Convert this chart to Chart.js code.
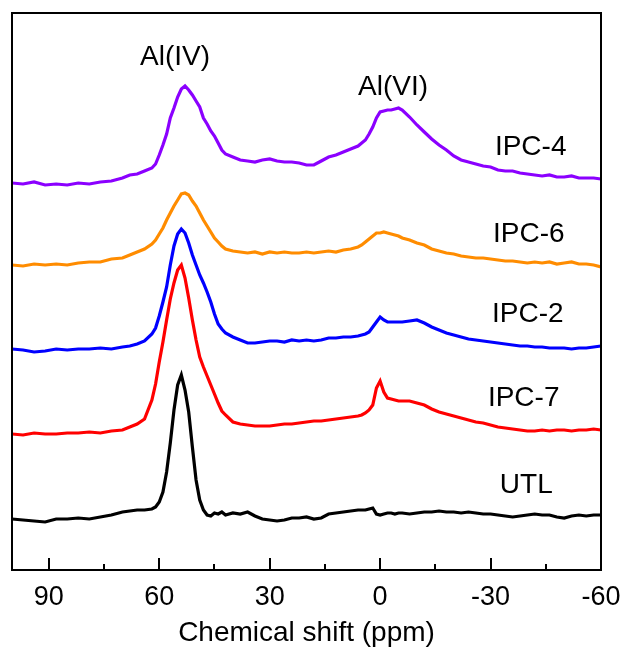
<!DOCTYPE html>
<html>
<head>
<meta charset="utf-8">
<script src="https://cdn.jsdelivr.net/npm/chart.js@4"></script>
<style>
  body { margin: 0; background: #fff; }
  #wrap { width: 622px; height: 647px; }
</style>
</head>
<body>
<div id="wrap"><canvas id="nmr"></canvas></div>
<script>
// Chemical shift points (ppm)
const shift = [100, 97, 94, 91, 88, 85, 82, 79, 76, 73, 70,
  68, 66, 64, 62,
  61, 60, 59, 58, 57, 56, 55, 54, 53, 52, 51, 50, 49, 48, 47, 46, 45, 44, 43, 42,
  40, 38, 36, 34, 32, 30, 28, 26, 24, 22, 20, 18, 16, 14, 12, 10, 8, 6,
  5, 4, 3, 2, 1, 0, -1, -2, -3, -4, -5,
  -6, -8, -10, -12, -14, -16, -18, -20, -22, -24, -26, -28, -30, -32, -34, -36, -38, -40, -42, -44, -46, -48, -50, -52, -54, -56, -58, -60];

// Stacked intensities (offset included)
const ipc4 = [387, 386, 388, 385, 386, 385, 387, 386, 388, 389, 392,
  395, 396, 399, 402,
  406, 415, 425, 436, 452, 462, 473, 481, 484, 480, 475, 469, 463, 452, 446, 439, 434, 427, 420, 416,
  413, 410, 409, 408, 410, 411, 409, 408, 408, 407, 405, 405, 409, 413, 415, 418, 421, 424,
  427, 430, 436, 443, 452, 458, 459, 460, 460, 461, 462,
  460, 453, 445, 438, 431, 425, 420, 414, 410, 408, 406, 404, 403, 400, 399, 399, 397, 396, 395, 394, 395, 393, 393, 394, 392, 392, 392, 391];

const ipc6 = [305, 304, 306, 305, 306, 305, 307, 308, 308, 311, 312,
  315, 318, 321, 326,
  330, 336, 342, 350, 357, 364, 370, 376, 377, 375, 369, 364, 357, 350, 344, 338, 332, 328, 324, 321,
  319, 318, 317, 318, 316, 318, 317, 318, 317, 317, 318, 317, 318, 319, 318, 320, 321, 323,
  325, 328, 331, 334, 337, 337, 338, 337, 336, 335, 334,
  332, 330, 327, 325, 321, 319, 317, 316, 314, 313, 312, 312, 311, 310, 309, 309, 308, 307, 308, 307, 308, 306, 307, 308, 306, 306, 305, 303];

const ipc2 = [221, 220, 218, 219, 221, 220, 221, 221, 222, 221, 223,
  224, 226, 229, 236,
  242, 254, 268, 283, 305, 324, 336, 341, 337, 327, 315, 305, 295, 287, 278, 268, 256, 246, 241, 237,
  233, 230, 227, 227, 228, 229, 229, 228, 230, 229, 230, 229, 230, 232, 232, 233, 233, 234,
  235, 236, 238, 243, 248, 253, 250, 248, 248, 248, 248,
  248, 249, 250, 247, 243, 240, 237, 235, 233, 231, 230, 229, 228, 227, 226, 225, 224, 224, 223, 223, 222, 222, 222, 221, 222, 222, 223, 224];

const ipc7 = [136, 135, 137, 136, 136, 137, 137, 138, 137, 139, 140,
  143, 146, 151, 170,
  186, 208, 228, 250, 271, 287, 300, 305, 292, 272, 250, 230, 213, 203, 194, 185, 176, 167, 159, 155,
  148, 146, 145, 144, 144, 144, 145, 146, 146, 147, 148, 149, 149, 150, 151, 152, 153, 154,
  155, 157, 160, 165, 182, 189, 178, 172, 171, 170, 169,
  169, 169, 167, 165, 161, 158, 156, 154, 152, 150, 148, 147, 145, 143, 142, 141, 140, 139, 139, 140, 139, 140, 140, 139, 140, 140, 141, 140];

const utl = [51, 50, 49, 48, 51, 51, 52, 51, 53, 55, 58,
  59, 60, 60, 61,
  63, 68, 78, 98, 127, 160, 185, 195, 180, 158, 123, 90, 70, 60, 55, 54, 57, 56, 58, 55,
  57, 56, 58, 54, 51, 50, 49, 50, 52, 52, 53, 51, 52, 56, 57, 58, 59, 60,
  60, 60, 61, 62, 56, 55, 56, 57, 57, 56, 57,
  57, 56, 57, 58, 58, 59, 58, 58, 57, 58, 57, 56, 56, 55, 54, 53, 54, 55, 56, 55, 55, 53, 52, 54, 55, 54, 55, 55];

const seriesNames = ['IPC-4', 'IPC-6', 'IPC-2', 'IPC-7', 'UTL'];
const seriesColors = ['#8B00FF', '#FF8C00', '#0000FF', '#FF0000', '#000000'];

// Axis ticks
const majorTicks = [90, 60, 30, 0, -30, -60];
const minorTicks = [75, 45, 15, -15, -45];

// Text labels inside the plot (ppm, intensity)
const noteText = ['Al(IV)', 'Al(VI)', 'IPC-4', 'IPC-6', 'IPC-2', 'IPC-7', 'UTL'];
const noteX = [55.7, -3.5, -40.9, -40.4, -40.1, -39, -39.7];
const noteY = [505, 475, 415, 328, 248, 164, 77];

const FONT = '"Liberation Sans", Arial, sans-serif';

// Frame, inward ticks and labels
const framePlugin = {
  id: 'frame',
  afterDatasetsDraw(chart) {
    const { ctx, chartArea: a } = chart;
    const x = chart.scales.x, y = chart.scales.y;
    ctx.save();
    ctx.strokeStyle = '#000';
    ctx.lineWidth = 2;
    ctx.strokeRect(a.left, a.top, a.right - a.left, a.bottom - a.top);

    ctx.beginPath();
    majorTicks.forEach(v => {
      const px = Math.round(x.getPixelForValue(v));
      ctx.moveTo(px, a.bottom);
      ctx.lineTo(px, a.bottom - 12);
    });
    minorTicks.forEach(v => {
      const px = Math.round(x.getPixelForValue(v));
      ctx.moveTo(px, a.bottom);
      ctx.lineTo(px, a.bottom - 6);
    });
    ctx.stroke();

    ctx.fillStyle = '#000';
    ctx.font = '28px ' + FONT;
    ctx.textAlign = 'center';
    ctx.textBaseline = 'alphabetic';
    noteText.forEach((t, i) => {
      ctx.fillText(t, x.getPixelForValue(noteX[i]), y.getPixelForValue(noteY[i]));
    });
    ctx.restore();
  }
};

const allSeries = [ipc4, ipc6, ipc2, ipc7, utl];

new Chart(document.getElementById('nmr'), {
  type: 'line',
  data: {
    labels: shift,
    datasets: allSeries.map((s, i) => ({
      label: seriesNames[i],
      data: s.map((v, j) => ({ x: shift[j], y: v })),
      borderColor: seriesColors[i],
      borderWidth: 3.2,
      pointRadius: 0,
      tension: 0
    }))
  },
  options: {
    responsive: true,
    maintainAspectRatio: false,
    animation: false,
    layout: { padding: { left: 12, top: 13, right: 21, bottom: 0 } },
    plugins: {
      legend: { display: false },
      tooltip: { enabled: false }
    },
    scales: {
      x: {
        type: 'linear',
        reverse: true,
        min: -60,
        max: 100,
        afterBuildTicks: scale => { scale.ticks = majorTicks.map(v => ({ value: v })); },
        afterFit: scale => {
          scale.height = 77;
          scale.paddingLeft = 0;
          scale.paddingRight = 0;
        },
        grid: { display: false, drawTicks: false },
        border: { display: false },
        ticks: {
          color: '#000',
          padding: 11,
          maxRotation: 0,
          font: { family: FONT, size: 27 }
        },
        title: {
          display: true,
          text: 'Chemical shift (ppm)',
          color: '#000',
          font: { family: FONT, size: 28 },
          padding: { top: 0, bottom: -3 }
        }
      },
      y: {
        display: false,
        min: 0,
        max: 557
      }
    }
  },
  plugins: [framePlugin]
});
</script>
</body>
</html>
